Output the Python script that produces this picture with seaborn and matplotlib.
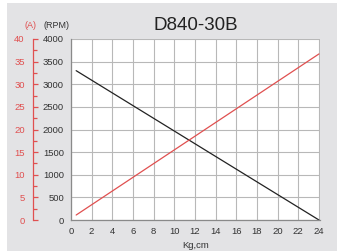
import matplotlib
matplotlib.use("Agg")
import matplotlib.pyplot as plt
import matplotlib.patches as patches
from matplotlib.ticker import MultipleLocator
import numpy as np
import pandas as pd
import seaborn as sns

# --------------------------------------------------------------
# Data
# --------------------------------------------------------------
torque = [0.5, 24.0]          # Kg,cm
speed = [3300, 0]             # RPM
current = [1.1, 36.7]         # A
x_ticks = list(range(0, 25, 2))
rpm_ticks = list(range(0, 4001, 500))
amp_ticks = list(range(0, 41, 5))

df = pd.DataFrame({"torque": torque, "speed": speed, "current": current})

sns.set_theme(style="white")
plt.rcParams["font.family"] = ["Liberation Sans", "DejaVu Sans"]

W, H = 337, 252
fig = plt.figure(figsize=(W / 100, H / 100), dpi=100, facecolor="white")

# gray panel behind everything
fig.patches.append(
    patches.Rectangle((7 / W, 1 / H), (W - 7) / W, (249 - 1) / H,
                      transform=fig.transFigure, facecolor="#e3e3e5",
                      edgecolor="none", zorder=-10)
)

left, right, top, bottom = 71, 320, 39, 220
ax = fig.add_axes([left / W, 1 - bottom / H, (right - left) / W, (bottom - top) / H])
ax.set_facecolor("white")

sns.lineplot(data=df, x="torque", y="speed", ax=ax, color="#222222", linewidth=0.9)
ax.set_xlim(0, 24.1)
ax.set_ylim(0, 4000)
ax.set_xticks(x_ticks)
ax.set_yticks(rpm_ticks)
ax.grid(True, color="#b8b8b8", linewidth=0.8)
ax.tick_params(axis="both", length=0, labelsize=6.8, colors="#333333", pad=5)
for s in ["top", "right"]:
    ax.spines[s].set_visible(False)
for s in ["left", "bottom"]:
    ax.spines[s].set_color("#8a8a8a")
    ax.spines[s].set_linewidth(0.9)
ax.set_xlabel("Kg,cm", fontsize=6.8, color="#333333", labelpad=3.5)
ax.set_ylabel("")

# current axis, spine pulled out to the left
red = "#e05050"
axc = ax.twinx()
sns.lineplot(data=df, x="torque", y="current", ax=axc, color=red, linewidth=0.9)
axc.set_ylim(0, 40)
axc.yaxis.tick_left()
axc.set_yticks(amp_ticks)
axc.yaxis.set_minor_locator(MultipleLocator(2.5))
for s in ["top", "right", "bottom"]:
    axc.spines[s].set_visible(False)
axc.spines["left"].set_visible(True)
axc.spines["left"].set_position(("axes", -(left - 33) / (right - left)))
axc.spines["left"].set_color(red)
axc.spines["left"].set_linewidth(0.9)
axc.tick_params(axis="y", which="major", direction="in", length=3.5, width=0.9,
                color=red, labelcolor=red, labelsize=6.8, pad=6)
axc.tick_params(axis="y", which="minor", direction="in", length=3, width=0.9, color=red)
axc.set_ylabel("")

fig.text(30 / W, 1 - 25 / H, "(A)", color=red, fontsize=6.5, ha="center", va="center")
fig.text(56 / W, 1 - 25 / H, "(RPM)", color="#333333", fontsize=6.5, ha="center", va="center")
fig.text(196 / W, 1 - 25 / H, "D840-30B", color="#222222", fontsize=13.5,
         ha="center", va="center")

fig.savefig("out.png", dpi=100, facecolor="white")
